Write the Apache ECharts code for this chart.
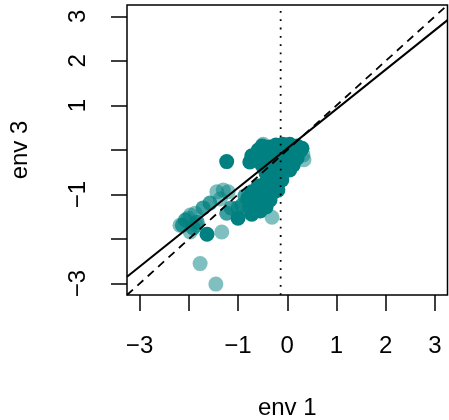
<!DOCTYPE html>
<html>
<head>
<meta charset="utf-8">
<script src="https://cdn.jsdelivr.net/npm/echarts@6/dist/echarts.min.js"></script>
<style>
html,body{margin:0;padding:0;background:#fff;}
#chart{width:449px;height:420px;}
</style>
</head>
<body>
<div id="chart"></div>
<script>
// ---- data ----
const xTicks = [-3, -2, -1, 0, 1, 2, 3];
const xTickLabels = [-3, -1, 0, 1, 2, 3];
const yTicks = [-3, -2, -1, 0, 1, 2, 3];
const yTickLabels = [-3, -1, 1, 2, 3];
const axisLimit = 3.255;

// opaque points (env 1, env 3)
const darkEnv1 = [-0.59,-0.72,-0.76,-0.59,-0.47,-0.35,-0.23,-0.09,0.05,0.20,0.26,0.16,0.01,-0.13,-0.27,-0.39,-0.51,-0.35,-0.21,-0.07,0.08,0.20,0.12,-0.03,-0.17,-0.31,-0.43,-0.23,-0.09,0.05,-0.11,-0.23,-0.35,-0.05,-0.51,0.30,
  -0.59,-0.47,-0.35,-0.72,-0.55,-0.39,-0.27,-0.80,-0.63,-0.49,-0.35,-0.76,-0.59,-0.43,-0.55,-0.72,-1.00,-1.23,-1.63,-0.19,-0.43];
const darkEnv3 = [0.00,-0.13,-0.27,-0.22,-0.04,0.07,0.11,0.13,0.13,0.09,-0.02,-0.04,0.00,-0.02,-0.07,-0.18,-0.34,-0.29,-0.18,-0.16,-0.18,-0.18,-0.34,-0.31,-0.36,-0.45,-0.52,-0.54,-0.49,-0.45,-0.67,-0.72,-0.67,0.09,0.09,0.04,
  -0.81,-0.88,-0.81,-0.94,-1.01,-0.99,-0.94,-1.08,-1.15,-1.19,-1.12,-1.26,-1.33,-1.28,-1.37,-1.44,-1.53,-0.26,-1.89,-0.90,-0.72];

// semi-transparent points
const midEnv1 = [-1.23,-1.14,-1.00,-0.76,-1.71,-1.57,-2.07,-2.13,-1.91,-1.83,-0.86,-0.92];
const midEnv3 = [-1.42,-1.30,-1.30,-1.35,-1.30,-1.19,-1.57,-1.69,-1.75,-1.62,-1.03,-1.24];

// faint points
const lightEnv1 = [-1.77,-1.45,-1.33,-0.31,-1.43,-1.30,-1.20,-1.36,-1.97,-2.01,-2.18,-1.97,-1.85,-1.87,-0.45,0.20,0.32,0.34,-0.49];
const lightEnv3 = [-2.55,-3.01,-1.84,-1.51,-0.94,-0.90,-0.94,-1.10,-1.46,-1.53,-1.69,-1.84,-1.69,-1.42,0.07,0.04,-0.11,-0.22,0.13];

const fitIntercept = 0.035;
const fitSlope = 0.885;
const refLineX = -0.134;

// ---- build ----
const zip = (a, b) => a.map((v, i) => [v, b[i]]);
const fmt = v => (v < 0 ? '\u2212' + Math.abs(v) : String(v));
const font = 'Liberation Sans, Arial, Helvetica, sans-serif';
const teal = '#008080';

const chart = echarts.init(document.getElementById('chart'), null, {renderer: 'canvas'});
chart.setOption({
  animation: false,
  backgroundColor: '#fff',
  grid: {left: 127, right: 1.5, top: 5, bottom: 125, containLabel: false, outerBoundsMode: 'none', show: true, borderColor: '#000', borderWidth: 1.5, backgroundColor: 'transparent'},
  xAxis: {
    type: 'value', min: -axisLimit, max: axisLimit,
    name: 'env 1', nameLocation: 'middle', nameGap: 101,
    nameTextStyle: {fontFamily: font, fontSize: 24, color: '#000'},
    axisLine: {show: false, onZero: false},
    axisTick: {show: true, inside: false, length: 16, customValues: xTicks, lineStyle: {color: '#000', width: 1.5}},
    axisLabel: {customValues: xTickLabels, formatter: fmt, margin: 39, fontFamily: font, fontSize: 24, color: '#000'},
    splitLine: {show: false}
  },
  yAxis: {
    type: 'value', min: -axisLimit, max: axisLimit,
    name: 'env 3', nameLocation: 'middle', nameGap: 95,
    nameTextStyle: {fontFamily: font, fontSize: 24, color: '#000'},
    axisLine: {show: false, onZero: false},
    axisTick: {show: true, inside: false, length: 16, customValues: yTicks, lineStyle: {color: '#000', width: 1.5}},
    axisLabel: {customValues: yTickLabels, formatter: fmt, rotate: 90, margin: 37, fontFamily: font, fontSize: 24, color: '#000'},
    splitLine: {show: false}
  },
  series: [
    {type: 'scatter', data: zip(lightEnv1, lightEnv3), symbolSize: 15, itemStyle: {color: teal, opacity: 0.5}, z: 2},
    {type: 'scatter', data: zip(midEnv1, midEnv3), symbolSize: 15, itemStyle: {color: teal, opacity: 0.75}, z: 3},
    {type: 'scatter', data: zip(darkEnv1, darkEnv3), symbolSize: 15, itemStyle: {color: teal, opacity: 1}, z: 4},
    {type: 'line', data: [[-axisLimit, -axisLimit], [axisLimit, axisLimit]], symbol: 'none', lineStyle: {color: '#000', width: 1.8, type: [8, 6]}, z: 10},
    {type: 'line', data: [[-axisLimit, fitIntercept + fitSlope * -axisLimit], [axisLimit, fitIntercept + fitSlope * axisLimit]], symbol: 'none', lineStyle: {color: '#000', width: 2}, z: 11},
    {type: 'line', data: [[refLineX, -axisLimit], [refLineX, axisLimit]], symbol: 'none', lineStyle: {color: '#000', width: 1.8, type: [1.8, 6.5]}, z: 12}
  ]
});
</script>
</body>
</html>
